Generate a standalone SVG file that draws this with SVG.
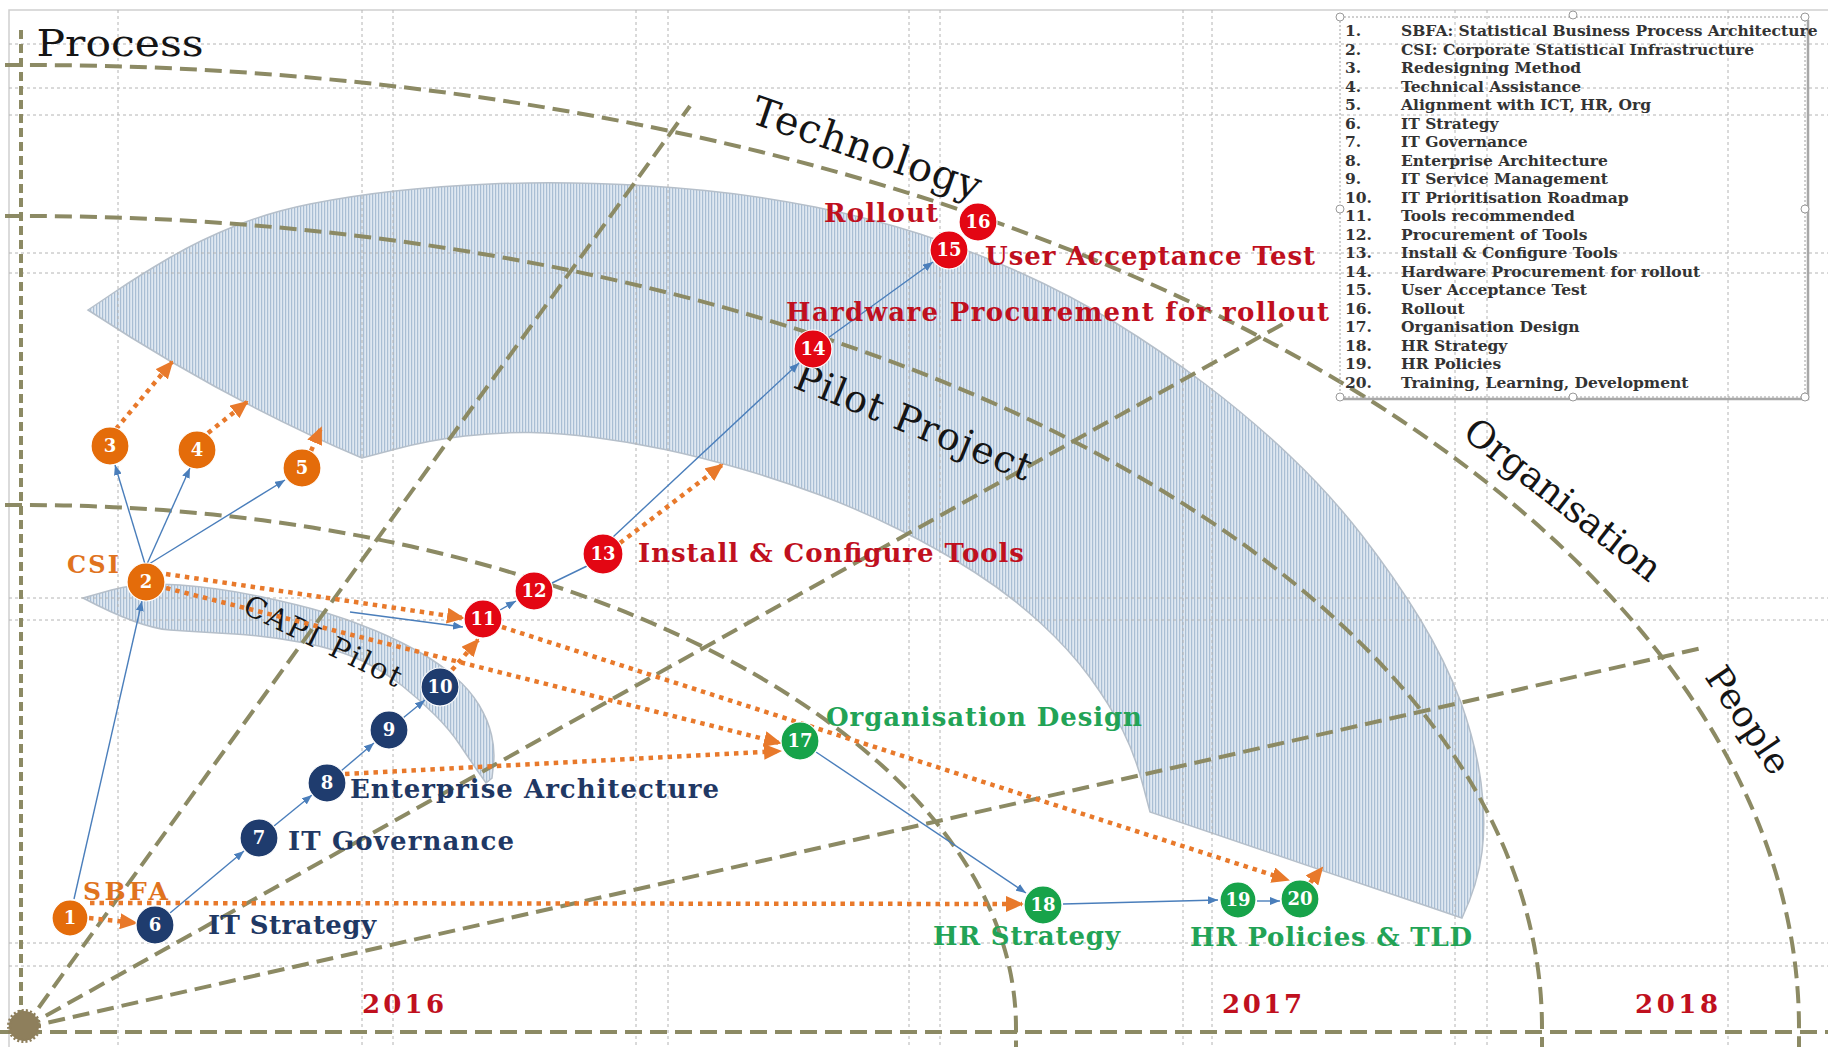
<svg xmlns="http://www.w3.org/2000/svg" width="1828" height="1047" viewBox="0 0 1828 1047">
<style>
.olive{fill:none;stroke:#8c8a64;stroke-width:4;stroke-dasharray:17 8}
.grid{fill:none;stroke:#b4b4b4;stroke-width:1;stroke-dasharray:3 3}
.blue{fill:none;stroke:#4a7ebb;stroke-width:1.4;marker-end:url(#ab)}
.bl{fill:none;stroke:#4a7ebb;stroke-width:1.4}
.dot{fill:none;stroke:#e8792b;stroke-width:4.5;stroke-dasharray:4.5 5;marker-end:url(#ao)}
.lab{font-family:'DejaVu Serif',serif;font-weight:bold;font-size:26px}
.num{font-family:'DejaVu Serif',serif;font-weight:bold;font-size:18px;fill:#fff;text-anchor:middle}
.big{font-family:'DejaVu Serif',serif;fill:#151515;text-anchor:middle}
.leg{font-family:'DejaVu Serif',serif;font-weight:bold;font-size:15.5px;fill:#333}
.o{fill:#e46c0a;stroke:#fff;stroke-width:1.2}
.nv{fill:#1f3c6e;stroke:#fff;stroke-width:1.2}
.rd{fill:#e30613;stroke:#fff;stroke-width:1.2}
.gr{fill:#17a34a;stroke:#fff;stroke-width:1.2}
.shape{fill:url(#tex);stroke:#b5bfca;stroke-width:1.5}
.cr{fill:#c0101e}.cg{fill:#22a356}.cn{fill:#1f3864}.co{fill:#e0731e}
</style>
<defs>
<pattern id="tex" width="3" height="3" patternUnits="userSpaceOnUse"><rect width="3" height="3" fill="#dfe8f1"/><rect width="1.2" height="3" fill="#a9bed4"/></pattern>
<marker id="ao" markerUnits="userSpaceOnUse" markerWidth="18" markerHeight="16" viewBox="0 0 18 16" refX="16" refY="8" orient="auto"><path d="M0,0 L18,8 L0,16 z" fill="#e8792b"/></marker>
<marker id="ab" markerUnits="userSpaceOnUse" markerWidth="10" markerHeight="8" viewBox="0 0 10 8" refX="10" refY="4" orient="auto"><path d="M0,0 L10,4 L0,8 z" fill="#4a7ebb"/></marker>
</defs>
<rect width="1828" height="1047" fill="#fff"/>
<path d="M9,1047 L9,10 L1828,10" fill="none" stroke="#cfcfcf" stroke-width="1.5"/>

<g id="pilot-project-area">
<path class="shape" d="M88,310 L114,292.5 Q140,275 170,257.5 Q200,240 235,226 Q270,212 310,204 Q350,196 395,191 Q440,186 490,184 Q540,182 595,183.5 Q650,185 705,190.5 Q760,196 815,207 Q870,218 920,234 Q970,250 1020,272.5 Q1070,295 1115,322.5 Q1160,350 1205,384 Q1250,418 1290,456 Q1330,494 1362.5,536 Q1395,578 1420,619 Q1445,660 1461,702.5 Q1476,745 1481,782.5 Q1486,820 1482,852 Q1478,884 1462,918 L1150,812 L1142.5,783.5 Q1135,755 1122.5,730 Q1110,705 1090,677.5 Q1070,650 1040,622.5 Q1010,595 975,572.5 Q940,550 900,530 Q860,510 820,495 Q780,480 740,468.5 Q700,457 665,449.5 Q630,442 595,437.5 Q560,433 530,432.5 Q500,432 465,436 Q430,440 396,449 L362,458 Q225,400 88,310 Z"/>
</g>
<g id="capi-pilot-area">
<path class="shape" d="M83,598 L111.5,590 Q140,582 180,585 Q220,588 260,596.5 Q300,605 325,612.5 Q350,620 375,630.5 Q400,641 420,652.5 Q440,664 455,677 Q470,690 479,705 Q488,720 491.5,735 Q495,750 493.5,764 L492,778 L486,783 L478,771.5 Q470,760 460,745 Q450,730 435,715 Q420,700 402.5,686 Q385,672 362.5,661 Q340,650 305,643 Q270,636 235,634 Q200,632 170,630 Q140,628 83,598 Z"/>
</g>

<g id="grid">
<path class="grid" d="M118,10V1047M362,10V1047M393,10V1047M636,10V1047M668,10V1047M909,10V1047M940,10V1047M1183,10V1047M1212,10V1047M1455,10V1047M1487,10V1047M1728,10V1047"/>
<path class="grid" d="M9,44H1828M9,88H1828M9,115H1828M9,253H1828M9,273H1828M9,598H1828M9,620H1828M9,943H1828M9,966H1828"/>
</g>

<g id="axes">
<path class="olive" d="M21,30 L21,1032" style="stroke-dasharray:9 5"/>
<path class="olive" d="M0,1032 L1828,1032"/>
<path class="olive" d="M5,65 L24,65 A1775,963 0 0 1 1799,1028 L1799,1047"/>
<path class="olive" d="M5,216 L24,216 A1518,812 0 0 1 1542,1028 L1542,1047"/>
<path class="olive" d="M5,505 L24,505 A992,523 0 0 1 1016,1028 L1016,1047"/>
<path class="olive" d="M24,1028 L690,106"/>
<path class="olive" d="M24,1028 L1290,320"/>
<path class="olive" d="M24,1028 L1702,648"/>
<circle cx="24" cy="1026" r="15" fill="#8e7f5c" stroke="#8e7f5c" stroke-width="4" stroke-dasharray="2 2"/>
</g>

<g id="axis-labels">
<text class="big" font-size="38" x="120" y="56" textLength="167" lengthAdjust="spacingAndGlyphs">Process</text>
<text class="big" font-size="40" transform="translate(866,150) rotate(19)" y="12" textLength="240">Technology</text>
<text class="big" font-size="38" transform="translate(913,423) rotate(22)" y="12" textLength="252">Pilot Project</text>
<text class="big" font-size="37" transform="translate(1562,501) rotate(38)" y="11" textLength="239">Organisation</text>
<text class="big" font-size="36" transform="translate(1747,721) rotate(56)" y="11">People</text>
<text class="big" font-size="29" transform="translate(323,641) rotate(26)" y="10" textLength="172">CAPI Pilot</text>
</g>

<g id="legend">
<rect x="1340" y="17" width="465" height="380" fill="none" stroke="#a0a0a0" stroke-width="1" stroke-dasharray="2 2"/>
<path d="M1808,20 V399 H1343" fill="none" stroke="#a8a8a8" stroke-width="2.5"/>
<g fill="#fff" stroke="#9a9a9a" stroke-width="1">
<circle cx="1340" cy="17" r="4"/><circle cx="1573" cy="15" r="4"/><circle cx="1805" cy="17" r="4"/>
<circle cx="1340" cy="209" r="4"/><circle cx="1805" cy="209" r="4"/>
<circle cx="1340" cy="397" r="4"/><circle cx="1573" cy="397" r="4"/><circle cx="1805" cy="397" r="4"/>
</g>
<g class="leg">
<text x="1345" y="36">1.</text><text x="1401" y="36">SBFA: Statistical Business Process Architecture</text>
<text x="1345" y="54.5">2.</text><text x="1401" y="54.5">CSI: Corporate Statistical Infrastructure</text>
<text x="1345" y="73">3.</text><text x="1401" y="73">Redesigning Method</text>
<text x="1345" y="91.5">4.</text><text x="1401" y="91.5">Technical Assistance</text>
<text x="1345" y="110">5.</text><text x="1401" y="110">Alignment with ICT, HR, Org</text>
<text x="1345" y="128.5">6.</text><text x="1401" y="128.5">IT Strategy</text>
<text x="1345" y="147">7.</text><text x="1401" y="147">IT Governance</text>
<text x="1345" y="165.5">8.</text><text x="1401" y="165.5">Enterprise Architecture</text>
<text x="1345" y="184">9.</text><text x="1401" y="184">IT Service Management</text>
<text x="1345" y="202.5">10.</text><text x="1401" y="202.5">IT Prioritisation Roadmap</text>
<text x="1345" y="221">11.</text><text x="1401" y="221">Tools recommended</text>
<text x="1345" y="239.5">12.</text><text x="1401" y="239.5">Procurement of Tools</text>
<text x="1345" y="258">13.</text><text x="1401" y="258">Install &amp; Configure Tools</text>
<text x="1345" y="276.5">14.</text><text x="1401" y="276.5">Hardware Procurement for rollout</text>
<text x="1345" y="295">15.</text><text x="1401" y="295">User Acceptance Test</text>
<text x="1345" y="313.5">16.</text><text x="1401" y="313.5">Rollout</text>
<text x="1345" y="332">17.</text><text x="1401" y="332">Organisation Design</text>
<text x="1345" y="350.5">18.</text><text x="1401" y="350.5">HR Strategy</text>
<text x="1345" y="369">19.</text><text x="1401" y="369">HR Policies</text>
<text x="1345" y="387.5">20.</text><text x="1401" y="387.5">Training, Learning, Development</text>
</g>
</g>

<g id="connectors">
<path class="blue" d="M74,899 L142,601"/>
<path class="blue" d="M145,564 L115,465"/>
<path class="blue" d="M147,564 L190,468"/>
<path class="blue" d="M149,564 L285,480"/>
<path class="blue" d="M350,612 L463,627"/>
<path class="blue" d="M170,913 L244,851"/>
<path class="blue" d="M274,826 L312,795"/>
<path class="blue" d="M341,771 L374,743"/>
<path class="blue" d="M403,718 L425,700"/>
<path class="blue" d="M500,610 L516,601"/>
<path class="bl" d="M552,583 L587,566"/>
<path class="blue" d="M613,537 L799,363"/>
<path class="blue" d="M828,338 L933,262"/>
<path class="blue" d="M816,752 L1026,893"/>
<path class="blue" d="M1063,904 L1218,900"/>
<path class="blue" d="M1257,901 L1280,901"/>
<path class="dot" d="M89,918 L136,923"/>
<path class="dot" d="M90,903 L1022,904"/>
<path class="dot" d="M166,574 L463,618"/>
<path class="dot" d="M166,588 L780,743"/>
<path class="dot" d="M345,774 L780,751"/>
<path class="dot" d="M452,670 L478,640"/>
<path class="dot" d="M502,627 L1288,880"/>
<path class="dot" d="M116,429 L172,362"/>
<path class="dot" d="M208,433 L247,402"/>
<path class="dot" d="M311,451 L321,428"/>
<path class="dot" d="M620,543 L722,465"/>
<path class="dot" d="M1310,883 L1322,868"/>
</g>

<g id="n1"><circle class="o" cx="70" cy="918" r="18"/><text class="num" x="70" y="924">1</text></g>
<g id="n2"><circle class="o" cx="146" cy="582" r="19"/><text class="num" x="146" y="588">2</text></g>
<g id="n3"><circle class="o" cx="110" cy="446" r="19"/><text class="num" x="110" y="452">3</text></g>
<g id="n4"><circle class="o" cx="197" cy="450" r="19"/><text class="num" x="197" y="456">4</text></g>
<g id="n5"><circle class="o" cx="302" cy="468" r="19"/><text class="num" x="302" y="474">5</text></g>
<g id="n6"><circle class="nv" cx="155" cy="925" r="19"/><text class="num" x="155" y="931">6</text></g>
<g id="n7"><circle class="nv" cx="259" cy="838" r="19"/><text class="num" x="259" y="844">7</text></g>
<g id="n8"><circle class="nv" cx="327" cy="783" r="19"/><text class="num" x="327" y="789">8</text></g>
<g id="n9"><circle class="nv" cx="389" cy="730" r="19"/><text class="num" x="389" y="736">9</text></g>
<g id="n10"><circle class="nv" cx="440" cy="687" r="19"/><text class="num" x="440" y="693">10</text></g>
<g id="n11"><circle class="rd" cx="483" cy="619" r="19"/><text class="num" x="483" y="625">11</text></g>
<g id="n12"><circle class="rd" cx="534" cy="591" r="19"/><text class="num" x="534" y="597">12</text></g>
<g id="n13"><circle class="rd" cx="603" cy="554" r="20"/><text class="num" x="603" y="560">13</text></g>
<g id="n14"><circle class="rd" cx="813" cy="349" r="19"/><text class="num" x="813" y="355">14</text></g>
<g id="n15"><circle class="rd" cx="949" cy="250" r="19"/><text class="num" x="949" y="256">15</text></g>
<g id="n16"><circle class="rd" cx="978" cy="222" r="19"/><text class="num" x="978" y="228">16</text></g>
<g id="n17"><circle class="gr" cx="800" cy="741" r="19"/><text class="num" x="800" y="747">17</text></g>
<g id="n18"><circle class="gr" cx="1043" cy="905" r="19"/><text class="num" x="1043" y="911">18</text></g>
<g id="n19"><circle class="gr" cx="1238" cy="900" r="18"/><text class="num" x="1238" y="906">19</text></g>
<g id="n20"><circle class="gr" cx="1300" cy="899" r="19"/><text class="num" x="1300" y="905">20</text></g>

<g id="labels" class="lab">
<text class="co" x="67" y="573" font-size="24" textLength="52">CSI</text>
<text class="co" x="83" y="900" font-size="25" textLength="85">SBFA</text>
<text class="cn" x="208" y="934" textLength="168">IT Strategy</text>
<text class="cn" x="288" y="850" textLength="226">IT Governance</text>
<text class="cn" x="350" y="798" textLength="369">Enterprise Architecture</text>
<text class="cr" x="638" y="562" textLength="386">Install &amp; Configure Tools</text>
<text class="cr" x="786" y="321" textLength="543">Hardware Procurement for rollout</text>
<text class="cr" x="985" y="265" textLength="330">User Acceptance Test</text>
<text class="cr" x="824" y="222" textLength="114">Rollout</text>
<text class="cg" x="826" y="726" textLength="316">Organisation Design</text>
<text class="cg" x="933" y="945" textLength="187">HR Strategy</text>
<text class="cg" x="1190" y="946" textLength="282">HR Policies &amp; TLD</text>
<text class="cr" x="362" y="1013" font-size="26" textLength="82">2016</text>
<text class="cr" x="1222" y="1013" font-size="26" textLength="80">2017</text>
<text class="cr" x="1635" y="1013" font-size="26" textLength="83">2018</text>
</g>
</svg>
